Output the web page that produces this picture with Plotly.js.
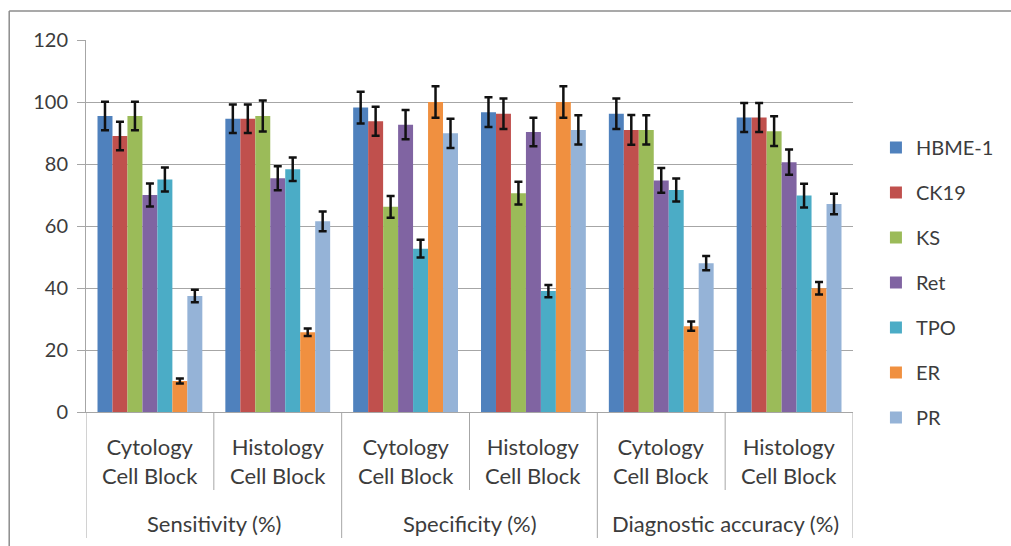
<!DOCTYPE html>
<html>
<head>
<meta charset="utf-8">
<script src="https://cdn.plot.ly/plotly-3.0.1.min.js"></script>
<style>
html,body{margin:0;padding:0;background:#fff;}
#chart{width:1011px;height:546px;}
</style>
</head>
<body>
<div id="chart"></div>
<script>
// ---- data ----
var categories = ["Sensitivity | Cytology", "Sensitivity | Histology", "Specificity | Cytology", "Specificity | Histology", "Accuracy | Cytology", "Accuracy | Histology"];
var subLabels = ["Cytology<br>Cell Block", "Histology<br>Cell Block", "Cytology<br>Cell Block", "Histology<br>Cell Block", "Cytology<br>Cell Block", "Histology<br>Cell Block"];
var groupLabels = ["Sensitivity (%)", "Specificity (%)", "Diagnostic accuracy (%)"];
var seriesNames = ["HBME-1", "CK19", "KS", "Ret", "TPO", "ER", "PR"];

var HBME1 = [95.5, 94.6, 98.2, 96.7, 96.2, 95.0];
var CK19  = [89.0, 94.6, 93.8, 96.2, 91.0, 95.0];
var KS    = [95.5, 95.5, 66.2, 70.6, 91.0, 90.6];
var Ret   = [70.0, 75.4, 92.7, 90.3, 74.7, 80.6];
var TPO   = [75.0, 78.3, 52.7, 39.0, 71.6, 69.8];
var ER    = [10.0, 25.7, 100.0, 100.0, 27.7, 39.9];
var PR    = [37.4, 61.5, 89.9, 91.0, 48.0, 67.1];

var HBME1_err = [4.6, 4.6, 5.1, 4.8, 4.9, 4.7];
var CK19_err  = [4.6, 4.6, 4.7, 4.9, 4.8, 4.7];
var KS_err    = [4.6, 5.0, 3.5, 3.7, 4.7, 4.8];
var Ret_err   = [3.7, 3.9, 4.7, 4.6, 4.0, 4.1];
var TPO_err   = [3.9, 3.8, 2.9, 2.0, 3.7, 3.8];
var ER_err    = [0.8, 1.2, 5.1, 5.1, 1.5, 2.0];
var PR_err    = [2.0, 3.2, 4.7, 4.7, 2.3, 3.3];

var yTicks = [0, 20, 40, 60, 80, 100, 120];

// ---- styling ----
var colors = ["#4F81BD", "#C0504D", "#9BBB59", "#8064A2", "#4BACC6", "#F09040", "#95B3D7"];
var values = [HBME1, CK19, KS, Ret, TPO, ER, PR];
var errors = [HBME1_err, CK19_err, KS_err, Ret_err, TPO_err, ER_err, PR_err];
var FONT = "Lato, 'Open Sans', sans-serif";
var TXT = "#3c3c3c";
var GRID = "#a6a6a6";

var traces = seriesNames.map(function (name, i) {
  return {
    type: "bar",
    name: name,
    x: categories,
    y: values[i],
    marker: {color: colors[i], line: {width: 0}},
    error_y: {type: "data", array: errors[i], visible: true, color: "#111", thickness: 2.5, width: 4},
    legendgroup: "g" + i
  };
});

// plot area geometry in px: left 86, right 855, top 40, bottom 412
var plotH = 372;
function py(px) { return (412 - px) / plotH; }
function pxX(px) { return (px - 86) / 769; }

var shapes = [];
var annotations = [];
// vertical dividers below axis
var divs = [-0.5, 0.5, 1.5, 2.5, 3.5, 4.5, 5.5];
divs.forEach(function (d, k) {
  var long = (k % 2 === 0);
  shapes.push({type: "line", xref: "x", yref: "paper", x0: d, x1: d, y0: 0, y1: long ? py(538) : py(490),
    line: {color: GRID, width: 1}});
});
// outer frame (left and top)
shapes.push({type: "line", xref: "paper", yref: "paper", x0: pxX(9), x1: pxX(9), y0: py(11), y1: py(560), line: {color: "#8c8c8c", width: 1.5}});
shapes.push({type: "line", xref: "paper", yref: "paper", x0: pxX(9), x1: pxX(1015), y0: py(11), y1: py(11), line: {color: "#8c8c8c", width: 1.5}});

subLabels.forEach(function (t, i) {
  annotations.push({xref: "x", yref: "paper", x: i, y: py(461), text: t, showarrow: false,
    xanchor: "center", yanchor: "middle", font: {family: FONT, size: 22, color: TXT}});
});
groupLabels.forEach(function (t, i) {
  annotations.push({xref: "x", yref: "paper", x: 2 * i + 0.5, y: py(523), text: t, showarrow: false,
    xanchor: "center", yanchor: "middle", font: {family: FONT, size: 22, color: TXT}});
});

var layout = {
  width: 1011, height: 546,
  margin: {l: 86, r: 156, t: 40, b: 134},
  paper_bgcolor: "#fff", plot_bgcolor: "#fff",
  barmode: "group", bargap: 0.18, bargroupgap: 0,
  showlegend: true,
  legend: {x: pxX(878), y: py(128), xanchor: "left", yanchor: "top", tracegroupgap: 16,
    font: {family: FONT, size: 20, color: TXT}, bgcolor: "rgba(0,0,0,0)"},
  xaxis: {type: "category", showticklabels: false, ticks: "", showgrid: false,
    showline: true, linecolor: GRID, linewidth: 1, zeroline: false, range: [-0.5, 5.5]},
  yaxis: {range: [0, 120], tickvals: yTicks, ticktext: yTicks.map(String), ticks: "outside", ticklen: 8,
    tickcolor: GRID, showline: true, linecolor: GRID, linewidth: 1, gridcolor: GRID, gridwidth: 1,
    zeroline: false, ticklabelstandoff: 5,
    tickfont: {family: FONT, size: 20, color: TXT}},
  shapes: shapes,
  annotations: annotations,
  font: {family: FONT}
};

Plotly.newPlot("chart", traces, layout, {displayModeBar: false, staticPlot: true});
</script>
</body>
</html>
